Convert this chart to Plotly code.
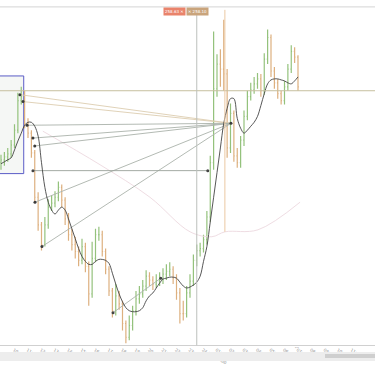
import pandas as pd
import plotly.graph_objects as go

# ---------------- data ----------------
bar_start = "2024-05-23 09:30"
bar_freq = "15min"
first_open = 185

close = [188, 191, 194, 203, 218, 248, 252, 225, 215, 195,
         150, 122, 102, 122, 140, 144, 150, 160, 147, 128,
         112, 102, 95, 86, 100, 80, 52, 88, 112, 112,
         95, 77, 55, 35, 50, 42, 22, 8, 20, 35,
         47, 52, 60, 70, 66, 62, 65, 67, 72, 75,
         77, 68, 53, 32, 32, 53, 65, 86, 96, 98,
         107, 130, 185, 260, 285, 280, 275, 200, 235, 192,
         185, 208, 232, 252, 259, 265, 270, 258, 290, 312,
         278, 266, 255, 248, 262, 280, 298, 292, 262]

high = [193, 196, 200, 208, 224, 256, 262, 258, 230, 218,
        198, 155, 125, 130, 148, 152, 156, 166, 163, 150,
        134, 118, 110, 100, 108, 104, 85, 105, 118, 120,
        116, 98, 80, 58, 62, 55, 45, 25, 30, 40,
        55, 60, 66, 76, 74, 70, 72, 74, 78, 82,
        84, 80, 72, 58, 45, 60, 72, 92, 102, 104,
        112, 136, 192, 318, 295, 300, 330, 280, 245, 238,
        200, 212, 238, 258, 266, 272, 276, 275, 296, 320,
        315, 282, 270, 258, 268, 285, 304, 302, 294]

low = [178, 182, 186, 190, 200, 215, 244, 220, 210, 190,
       145, 116, 96, 100, 118, 136, 140, 146, 140, 122,
       106, 96, 88, 80, 82, 74, 40, 48, 84, 106,
       90, 72, 50, 28, 30, 36, 15, 2, 5, 15,
       30, 42, 48, 55, 60, 56, 58, 60, 62, 66,
       70, 62, 46, 22, 25, 28, 48, 60, 80, 90,
       94, 102, 125, 178, 252, 262, 258, 190, 195, 186,
       180, 180, 202, 228, 248, 255, 260, 252, 254, 285,
       272, 260, 250, 244, 244, 258, 276, 286, 258]

ma_values = [184, 186, 188, 190, 198, 207, 215, 223, 226, 226,
             222, 212, 185, 160, 145, 137, 133, 137, 140, 137,
             128, 118, 108, 98, 90, 85, 82, 82, 85, 87,
             87, 86, 83, 73, 62, 52, 44, 38, 35, 34,
             34, 35, 38, 45, 50, 53, 58, 63, 67, 68,
             69, 69, 68, 64, 60, 58, 59, 61, 64, 70,
             85, 100, 125, 150, 175, 200, 225, 240, 250, 250,
             230, 220, 215, 218, 222, 226, 232, 243, 255, 265,
             269, 270, 270, 269, 268, 266, 265, 268, 272]

faint_times = ["2024-05-23 12:36", "2024-05-23 16:50", "2024-05-23 20:32",
               "2024-05-23 23:30", "2024-05-24 01:07", "2024-05-24 02:06",
               "2024-05-24 04:32", "2024-05-24 07:39"]
faint_values = [217, 183, 150, 115, 110, 115, 117, 145]

level_value = 258
fan_apex_time = "2024-05-24 02:32"
fan_apex_value = 225
fan_origin_times = ["2024-05-23 10:54", "2024-05-23 11:08", "2024-05-23 11:26",
                    "2024-05-23 11:52", "2024-05-23 12:00", "2024-05-23 12:01",
                    "2024-05-23 12:32"]
fan_origin_values = [254, 247, 223, 210, 202, 145, 100]
fan_kinds = ["tan", "tan", "grey", "grey", "grey", "grey", "grey"]

hseg_times = ["2024-05-23 11:52", "2024-05-24 00:49"]
hseg_value = 177
link_times = ["2024-05-23 17:48", "2024-05-23 21:20"]
link_values = [33, 68]

box_times = ["2024-05-23 08:00", "2024-05-23 11:11"]
box_values = [174, 273]

day_line_time = "2024-05-24 00:00"
orange_line_time = "2024-05-24 02:05"
orange_line_values = [115, 340]

tick_times = pd.date_range("2024-05-23 10:00", "2024-05-24 13:00", freq="1h")
tick_text = [("24 May 00:00" if (t.hour == 0) else t.strftime("%H:%M")) for t in tick_times]

label_texts = ["258.63 ✕", "✕ 258.10"]

x_range = ["2024-05-23 09:25:33", "2024-05-24 13:12:13"]
y_range = [0, 343]

# ---------------- build ----------------
times = pd.date_range(bar_start, periods=len(close), freq=bar_freq)
opens = [first_open] + close[:-1]

fig = go.Figure()

# faint long arc
fig.add_trace(go.Scatter(x=pd.to_datetime(faint_times), y=faint_values, mode="lines",
                         line=dict(color="#efdde3", width=1, shape="spline"),
                         hoverinfo="skip", showlegend=False))

# fan lines
fan_colors = {"tan": "#dccdb0", "grey": "#aab2aa"}
for t, v, k in zip(fan_origin_times, fan_origin_values, fan_kinds):
    fig.add_trace(go.Scatter(x=pd.to_datetime([t, fan_apex_time]), y=[v, fan_apex_value],
                             mode="lines", line=dict(color=fan_colors[k], width=0.9),
                             hoverinfo="skip", showlegend=False))

fig.add_trace(go.Scatter(x=pd.to_datetime(hseg_times), y=[hseg_value, hseg_value],
                         mode="lines+markers", line=dict(color="#9aa09a", width=0.9),
                         marker=dict(size=3, color="#444"), showlegend=False))
fig.add_trace(go.Scatter(x=pd.to_datetime(link_times), y=link_values,
                         mode="lines+markers", line=dict(color="#aab2aa", width=0.9),
                         marker=dict(size=3, color="#444"), showlegend=False))

# price bars
fig.add_trace(go.Ohlc(
    x=times, open=opens, high=high, low=low, close=close,
    increasing=dict(line=dict(color="#94c27c", width=1.2)),
    decreasing=dict(line=dict(color="#ddb07f", width=1.2)),
    tickwidth=0.25, showlegend=False))

# moving average
fig.add_trace(go.Scatter(x=times, y=ma_values, mode="lines",
                         line=dict(color="#444444", width=0.9, shape="spline"),
                         showlegend=False))

# fan origin dots + apex
fig.add_trace(go.Scatter(x=pd.to_datetime(fan_origin_times + [fan_apex_time]),
                         y=fan_origin_values + [fan_apex_value], mode="markers",
                         marker=dict(size=3, color="#3a3a3a"), showlegend=False))

shapes = [
    # blue rectangle
    dict(type="rect", xref="x", yref="y", x0=box_times[0], x1=box_times[1],
         y0=box_values[0], y1=box_values[1], line=dict(color="#5a5cc6", width=1),
         fillcolor="rgba(215,225,215,0.25)", layer="below"),
    # horizontal level
    dict(type="line", xref="paper", yref="y", x0=0, x1=1, y0=level_value, y1=level_value,
         line=dict(color="#c6bf9f", width=1)),
    # day separator
    dict(type="line", xref="x", yref="paper", x0=day_line_time, x1=day_line_time,
         y0=0.0437, y1=0.97, line=dict(color="#bcc0bc", width=1)),
    # orange vertical
    dict(type="line", xref="x", yref="y", x0=orange_line_time, x1=orange_line_time,
         y0=orange_line_values[0], y1=orange_line_values[1],
         line=dict(color="#ebc8a3", width=1)),
    # top border
    dict(type="line", xref="paper", yref="paper", x0=0, x1=1, y0=359/366, y1=359/366,
         line=dict(color="#d4d4d4", width=1)),
    # bottom band
    dict(type="rect", xref="paper", yref="paper", x0=0, x1=1, y0=0, y1=9/366,
         fillcolor="#ededed", line=dict(width=0)),
    dict(type="rect", xref="paper", yref="paper", x0=325/375, x1=1, y0=3/366, y1=7/366,
         fillcolor="#cfcfcf", line=dict(width=0)),
]

annotations = [
    dict(xref="paper", yref="paper", x=163/375, y=354/366, xanchor="left", yanchor="middle",
         text=label_texts[0], showarrow=False, font=dict(size=4, color="white", family="DejaVu Sans"),
         bgcolor="#e9836b", borderpad=1),
    dict(xref="paper", yref="paper", x=186/375, y=354/366, xanchor="left", yanchor="middle",
         text=label_texts[1], showarrow=False, font=dict(size=4, color="white", family="DejaVu Sans"),
         bgcolor="#c9a47c", borderpad=1),
    dict(xref="paper", yref="paper", x=297/375, y=14/366, xanchor="center", yanchor="middle",
         text="⇔", showarrow=False, font=dict(size=6, color="#999")),
]

fig.update_layout(
    width=375, height=366, margin=dict(l=0, r=0, t=0, b=0),
    paper_bgcolor="white", plot_bgcolor="white",
    shapes=shapes, annotations=annotations, showlegend=False,
    xaxis=dict(range=x_range, rangeslider=dict(visible=False), showgrid=False,
               zeroline=False, showline=True, linecolor="#d0d0d0", linewidth=1,
               tickmode="array", tickvals=tick_times, ticktext=tick_text,
               tickfont=dict(size=4, color="#8a8a8a", family="DejaVu Sans"),
               ticks="", ticklabelshift=6),
    yaxis=dict(range=y_range, domain=[16/366, 359/366], showgrid=False, zeroline=False,
               showticklabels=False, showline=False),
)

fig.write_html("out.html")
